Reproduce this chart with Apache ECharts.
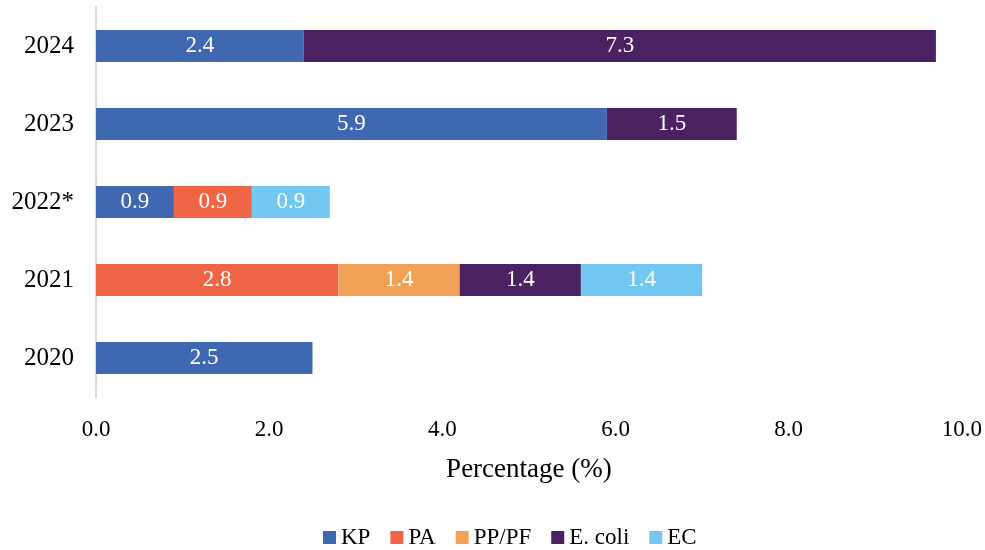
<!DOCTYPE html>
<html>
<head>
<meta charset="utf-8">
<script src="https://cdn.jsdelivr.net/npm/echarts@6/dist/echarts.min.js"></script>
<style>
  html, body { margin: 0; padding: 0; background: #fff; }
  #chart { width: 985px; height: 550px; }
</style>
</head>
<body>
<div id="chart"></div>
<script>
// Years shown on the vertical axis (bottom to top)
const years = ['2020', '2021', '2022*', '2023', '2024'];

// Percentage per organism and year (null = none reported)
const kp     = [2.5, null, 0.9, 5.9, 2.4];
const pa     = [null, 2.8, 0.9, null, null];
const ppPf   = [null, 1.4, null, null, null];
const eColi  = [null, 1.4, null, 1.5, 7.3];
const ec     = [null, 1.4, 0.9, null, null];

// Horizontal axis ticks
const xTicks = [0, 2, 4, 6, 8, 10];

const seriesNames  = ['KP', 'PA', 'PP/PF', 'E. coli', 'EC'];
const seriesData   = [kp, pa, ppPf, eColi, ec];
const seriesColors = ['#3F68B1', '#EF6647', '#F1A256', '#4A2262', '#72C8F1'];

const serif = '"Liberation Serif", "DejaVu Serif", serif';

const chart = echarts.init(document.getElementById('chart'), null, { renderer: 'canvas' });

chart.setOption({
  animation: false,
  textStyle: { fontFamily: serif },
  grid: { left: 96, right: 20, top: 7, bottom: 153, containLabel: false },
  legend: {
    data: seriesNames,
    top: 521,
    left: 318,
    itemWidth: 13,
    itemHeight: 13,
    itemGap: 20,
    icon: 'rect',
    textStyle: { fontFamily: serif, fontSize: 23, color: '#000' }
  },
  xAxis: {
    type: 'value',
    min: xTicks[0],
    max: xTicks[xTicks.length - 1],
    interval: xTicks[1] - xTicks[0],
    name: 'Percentage (%)',
    nameLocation: 'middle',
    nameGap: 59,
    nameTextStyle: { fontFamily: serif, fontSize: 27, color: '#000' },
    axisLine: { show: false },
    axisTick: { show: false },
    splitLine: { show: false },
    axisLabel: {
      margin: 21,
      fontSize: 23,
      color: '#000',
      formatter: v => v.toFixed(1)
    }
  },
  yAxis: {
    type: 'category',
    data: years,
    axisLine: { show: true, lineStyle: { color: '#D9D9D9', width: 2 } },
    axisTick: { show: false },
    axisLabel: { margin: 22, fontSize: 25, color: '#000' }
  },
  series: seriesNames.map((name, i) => ({
    name: name,
    type: 'bar',
    stack: 'total',
    barWidth: 32,
    data: seriesData[i],
    itemStyle: { color: seriesColors[i] },
    label: {
      show: true,
      position: 'inside',
      color: '#fff',
      fontFamily: serif,
      fontSize: 23,
      formatter: p => (p.value == null ? '' : p.value.toFixed(1))
    }
  }))
});
</script>
</body>
</html>
